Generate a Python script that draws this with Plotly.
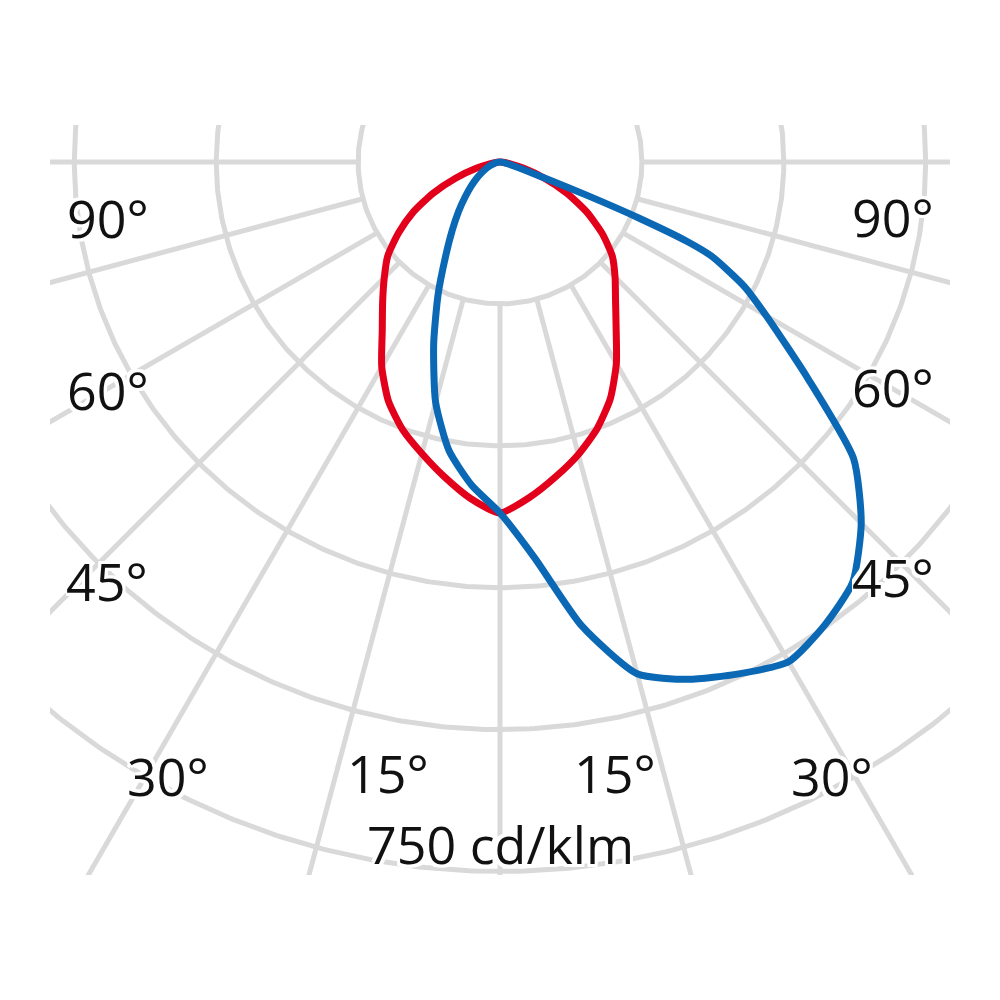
import numpy as np
import plotly.graph_objects as go

# Luminous intensity distribution, cd/klm; gamma in degrees from nadir
# (negative = left half of the diagram, positive = right half)
red_gamma = [-90, -85, -80, -75, -70, -65, -60, -55, -50, -45, -40, -35, -30, -25, -20, -15, -10, -5,
             0, 5, 10, 15, 20, 25, 30, 35, 40, 45, 50, 55, 60, 65, 70, 75, 80, 85, 90]
red_cd = [0, 3, 11, 26, 50, 78, 106, 131, 155, 173, 193, 217, 250, 279, 301, 319, 338, 357,
          371, 356, 338, 320, 300, 276, 246, 214, 190, 172, 155, 132, 106, 78, 50, 26, 11, 3, 0]

blue_gamma = [-90, -85, -80, -75, -70, -65, -60, -55, -50, -45, -40, -35, -30, -25, -20, -15, -10, -5,
              0, 5, 10, 15, 20, 25, 30, 35, 40, 45, 50, 55, 60, 63, 66, 67, 68, 69, 70, 72, 75, 80, 90]
blue_cd = [0, 2, 4, 7, 11, 16, 22, 30, 40, 52, 68, 88, 115, 155, 205, 263, 310, 343,
           371, 420, 498, 560, 582, 597, 610, 598, 580, 540, 488, 396, 325, 290, 245, 215, 160, 100, 55, 28, 12, 5, 0]

ring_cd = [150, 300, 450, 600, 750]
spoke_deg = [-90, -75, -60, -45, -30, -15, 0, 15, 30, 45, 60, 75, 90]

angle_labels = ['90°', '60°', '45°', '30°', '15°', '15°', '30°', '45°', '60°', '90°']
scale_label = '750 cd/klm'

GRID = '#d9d9d9'
RED = '#e2001a'
BLUE = '#0a68b4'
PX = 0.946  # pixels per cd/klm


def to_xy(gamma, cd):
    g = np.radians(np.asarray(gamma, dtype=float))
    cd = np.asarray(cd, dtype=float)
    return cd * np.sin(g), -cd * np.cos(g)


fig = go.Figure()

# grid rings
t = np.linspace(0, 2 * np.pi, 721)
for r in ring_cd:
    fig.add_trace(go.Scatter(x=r * np.cos(t), y=r * np.sin(t), mode='lines',
                             line=dict(color=GRID, width=5), hoverinfo='skip'))

# grid spokes, starting at the first ring
for a in spoke_deg:
    sx, sy = to_xy([a, a], [ring_cd[0], 1200])
    fig.add_trace(go.Scatter(x=sx, y=sy, mode='lines',
                             line=dict(color=GRID, width=5), hoverinfo='skip'))

# curves
rx, ry = to_xy(red_gamma, red_cd)
fig.add_trace(go.Scatter(x=rx, y=ry, mode='lines',
                         line=dict(color=RED, width=7, shape='spline', smoothing=0.6)))
bx, by = to_xy(blue_gamma, blue_cd)
fig.add_trace(go.Scatter(x=bx, y=by, mode='lines',
                         line=dict(color=BLUE, width=7, shape='spline', smoothing=0.6)))

# labels (pixel positions in the final picture)
label_px = [(108, 217), (108, 389), (107, 580), (168, 775), (388, 772),
            (615, 772), (832, 775), (893, 576), (893, 386), (893, 216)]
halo = ', '.join(f'{dx}px {dy}px 0 white' for dx in (-3, 0, 3) for dy in (-3, 0, 3) if dx or dy)
annots = []
for txt, (px, py) in zip(angle_labels + [scale_label], label_px + [(500, 843)]):
    annots.append(dict(x=(px - 500) / PX, y=(162 - py) / PX, xref='x', yref='y',
                       text=txt, showarrow=False, xanchor='center', yanchor='middle',
                       height=50, valign='middle', borderpad=0,
                       font=dict(family='Open Sans', size=52, color='#111111', shadow=halo)))

# page body adds an 8px offset, so the figure is 992 wide/high
fig.update_layout(
    width=992, height=992,
    margin=dict(l=42, r=50, t=117, b=125),
    paper_bgcolor='white', plot_bgcolor='white',
    showlegend=False,
    xaxis=dict(range=[-450 / PX, 450 / PX], visible=False),
    yaxis=dict(range=[-713 / PX, 37 / PX], visible=False),
    annotations=annots,
)

fig.write_html("out.html")
